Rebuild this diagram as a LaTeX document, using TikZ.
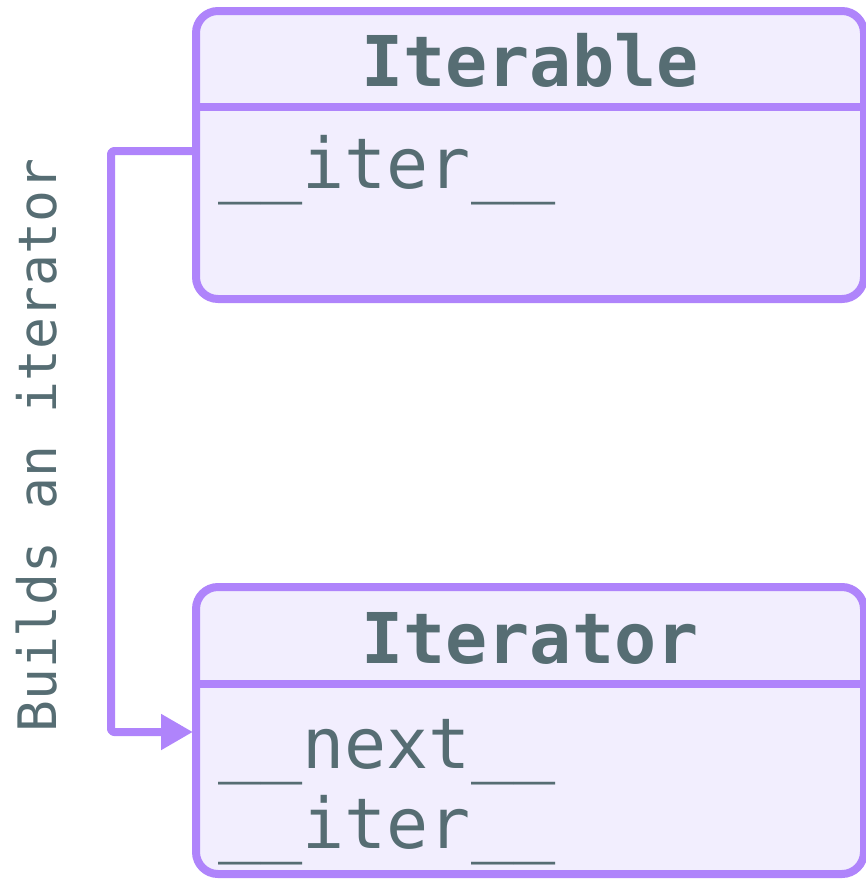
\documentclass[tikz,border=0pt]{standalone}
\usepackage{fontspec}
\newfontfamily\monofnt{DejaVu Sans Mono}
\usetikzlibrary{arrows.meta}
\definecolor{strk}{HTML}{AF84FB}
\definecolor{boxfill}{HTML}{F2EEFE}
\definecolor{txt}{HTML}{566D73}
\tikzset{
  umlbox/.style={draw=strk, fill=boxfill, line width=8pt, rounded corners=22pt, inner sep=0pt, outer sep=0pt},
  divider/.style={draw=strk, line width=8pt},
  title/.style={font=\monofnt\bfseries\fontsize{70}{84}\selectfont, text=txt, inner sep=0pt, anchor=base},
  member/.style={font=\monofnt\fontsize{70}{84}\selectfont, text=txt, inner sep=0pt, anchor=base west},
  sidelabel/.style={font=\monofnt\fontsize{53}{64}\selectfont, text=txt, inner sep=0pt, anchor=base west, rotate=90},
  conn/.style={draw=strk, line width=8pt, rounded corners=3pt, line join=round, -{Triangle[length=32pt,width=34pt]}}
}
\begin{document}
\begin{tikzpicture}[x=1pt,y=-1pt]
\useasboundingbox (0,0) rectangle (866,881);
% Iterable box
\node[umlbox, minimum width=668pt, minimum height=288pt] (iterable) at (530,155) {};
\draw[divider] (iterable.west |- 0,107) -- (iterable.east |- 0,107);
\node[title] (iterabletitle) at (530,86) {Iterable};
\node[member] (iterableiter) at (218,188) {\_\_iter\_\_};
% Iterator box
\node[umlbox, minimum width=668pt, minimum height=287pt] (iterator) at (530,730.5) {};
\draw[divider] (iterator.west |- 0,683.5) -- (iterator.east |- 0,683.5);
\node[title] (iteratortitle) at (530,663) {Iterator};
\node[member] (iteratornext) at (218,768) {\_\_next\_\_};
\node[member] (iteratoriter) at (218,848) {\_\_iter\_\_};
% connector
\coordinate (bend) at (111,151);
\draw[conn] ([yshift=-140pt]iterable.north west) -- (bend) |- ([xshift=-3pt,yshift=-145pt]iterator.north west);
% side label
\node[sidelabel] (label) at (56.5,733) {Builds an iterator};
\end{tikzpicture}
\end{document}
